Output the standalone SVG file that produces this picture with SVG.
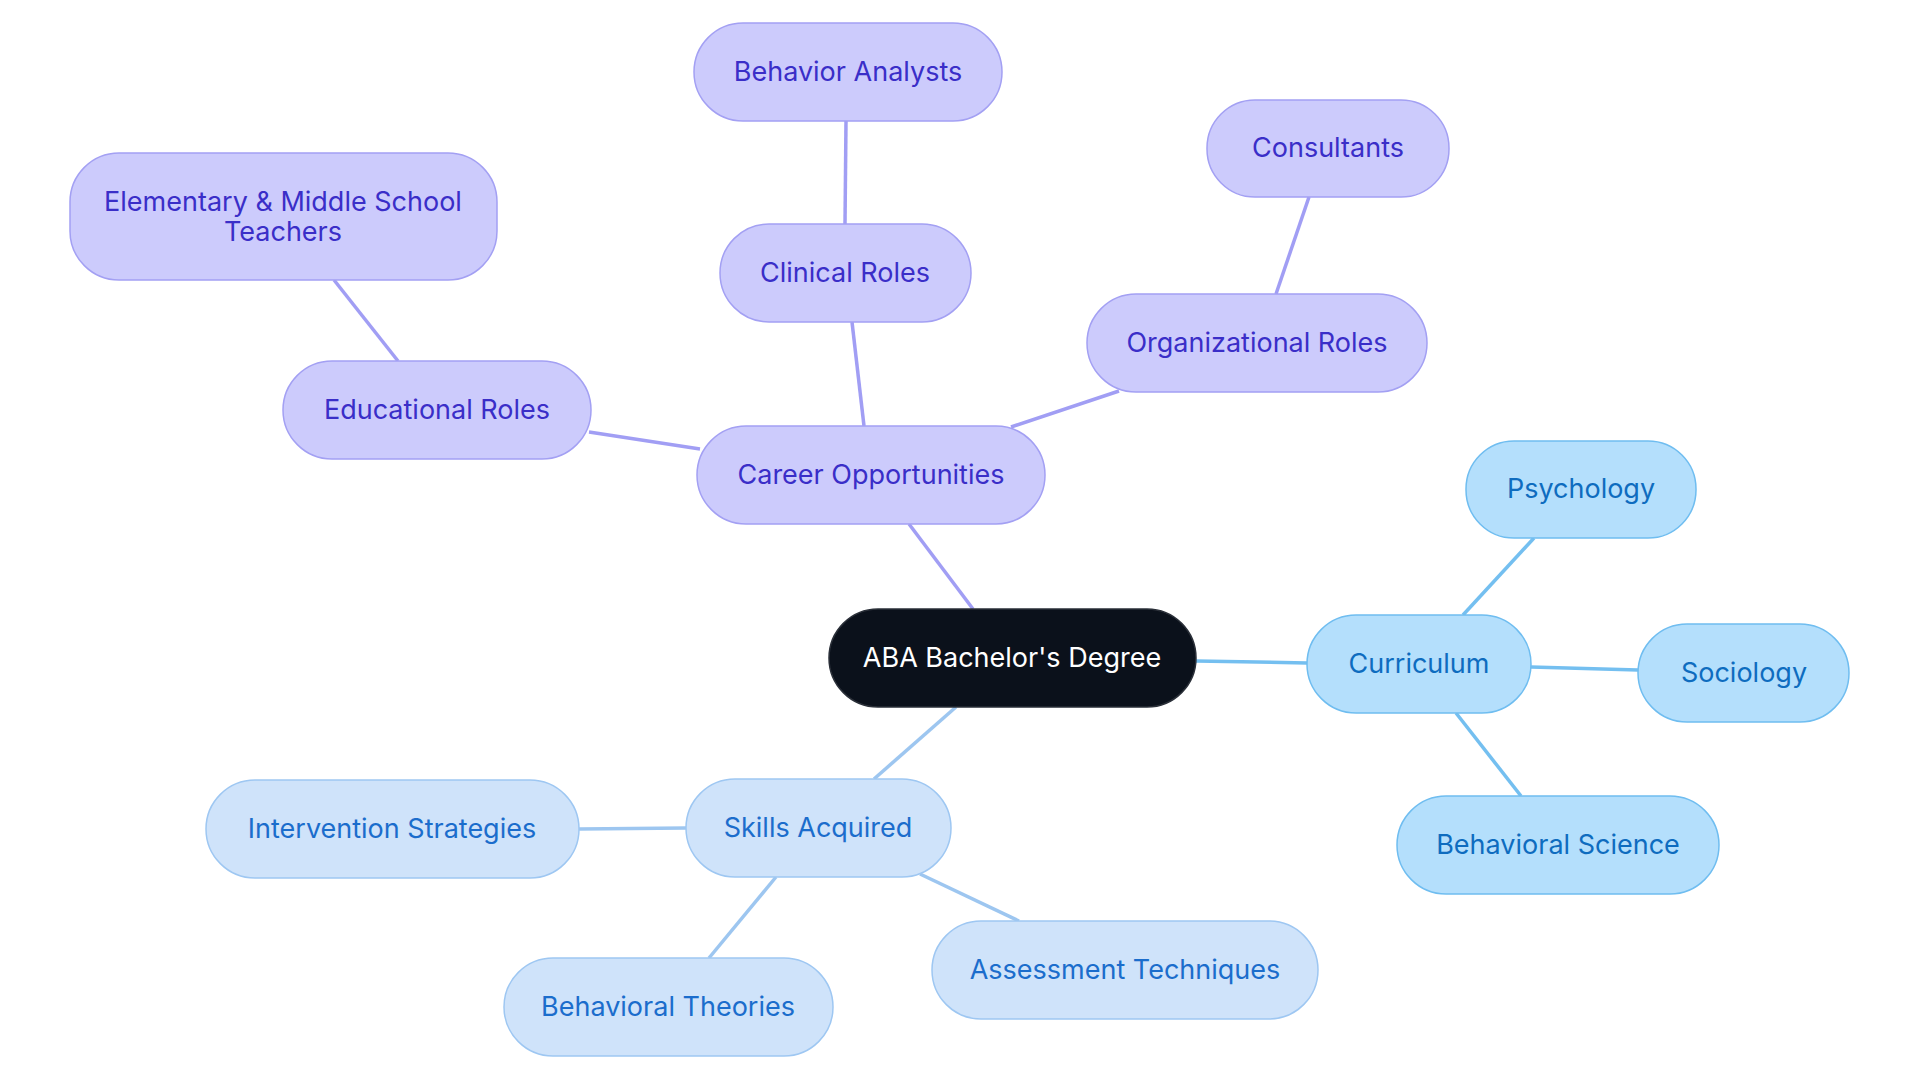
<svg xmlns="http://www.w3.org/2000/svg" width="1920" height="1083" viewBox="0 0 1920 1083">
<style>
text{font-family:Inter,"Liberation Sans",sans-serif;font-size:27px;text-anchor:middle;dominant-baseline:central}
.p rect{fill:#cccbfc;stroke:#a3a0f3;stroke-width:1.5}.p text{fill:#3a2ec8}
.c rect{fill:#b4dffc;stroke:#6fbdf0;stroke-width:1.5}.c text{fill:#0e6cbf}
.s rect{fill:#cfe3fa;stroke:#9ec7f2;stroke-width:1.5}.s text{fill:#1b6dcc}
.ep{stroke:#a19ef4}.ec{stroke:#74bff0}.es{stroke:#9dc6f0}
#edges line{stroke-width:3.5}
</style>
<rect width="1920" height="1083" fill="#fff"/>
<g id="edges">
<line class="ep" x1="973" y1="609" x2="909" y2="524"/>
<line class="ep" x1="700" y1="449" x2="589" y2="432"/>
<line class="ep" x1="398" y1="361" x2="334" y2="280"/>
<line class="ep" x1="864" y1="426" x2="852" y2="322"/>
<line class="ep" x1="845" y1="224" x2="846" y2="121"/>
<line class="ep" x1="1011" y1="427" x2="1119" y2="391"/>
<line class="ep" x1="1276" y1="294" x2="1309" y2="197"/>
<line class="ec" x1="1196" y1="661" x2="1307" y2="663"/>
<line class="ec" x1="1463" y1="615" x2="1534" y2="538"/>
<line class="ec" x1="1531" y1="667" x2="1638" y2="670"/>
<line class="ec" x1="1456" y1="713" x2="1521" y2="796"/>
<line class="es" x1="956" y1="707" x2="874" y2="779"/>
<line class="es" x1="686" y1="828" x2="579" y2="829"/>
<line class="es" x1="776" y1="877" x2="709" y2="958"/>
<line class="es" x1="920" y1="874" x2="1019" y2="921"/>
</g>
<g id="root"><rect x="829" y="609" width="367" height="98" rx="49" fill="#0b111b" stroke="#2a2f38" stroke-width="1.5"/><text x="1012" y="657" fill="#fff">ABA Bachelor's Degree</text></g>
<g id="career" class="p"><rect x="697" y="426" width="348" height="98" rx="49"/><text x="871" y="474">Career Opportunities</text></g>
<g id="edu" class="p"><rect x="283" y="361" width="308" height="98" rx="49"/><text x="437" y="409">Educational Roles</text></g>
<g id="elem" class="p"><rect x="70" y="153" width="427" height="127" rx="49"/><text x="283" y="201">Elementary &amp; Middle School</text><text x="283" y="231">Teachers</text></g>
<g id="clin" class="p"><rect x="720" y="224" width="251" height="98" rx="49"/><text x="845" y="272">Clinical Roles</text></g>
<g id="ba" class="p"><rect x="694" y="23" width="308" height="98" rx="49"/><text x="848" y="71">Behavior Analysts</text></g>
<g id="org" class="p"><rect x="1087" y="294" width="340" height="98" rx="49"/><text x="1257" y="342">Organizational Roles</text></g>
<g id="cons" class="p"><rect x="1207" y="100" width="242" height="97" rx="48"/><text x="1328" y="147">Consultants</text></g>
<g id="curr" class="c"><rect x="1307" y="615" width="224" height="98" rx="49"/><text x="1419" y="663">Curriculum</text></g>
<g id="psy" class="c"><rect x="1466" y="441" width="230" height="97" rx="48"/><text x="1581" y="488">Psychology</text></g>
<g id="soc" class="c"><rect x="1638" y="624" width="211" height="98" rx="49"/><text x="1744" y="672">Sociology</text></g>
<g id="bs" class="c"><rect x="1397" y="796" width="322" height="98" rx="49"/><text x="1558" y="844">Behavioral Science</text></g>
<g id="skills" class="s"><rect x="686" y="779" width="265" height="98" rx="49"/><text x="818" y="827">Skills Acquired</text></g>
<g id="int" class="s"><rect x="206" y="780" width="373" height="98" rx="49"/><text x="392" y="828">Intervention Strategies</text></g>
<g id="bt" class="s"><rect x="504" y="958" width="329" height="98" rx="49"/><text x="668" y="1006">Behavioral Theories</text></g>
<g id="at" class="s"><rect x="932" y="921" width="386" height="98" rx="49"/><text x="1125" y="969">Assessment Techniques</text></g>
</svg>
